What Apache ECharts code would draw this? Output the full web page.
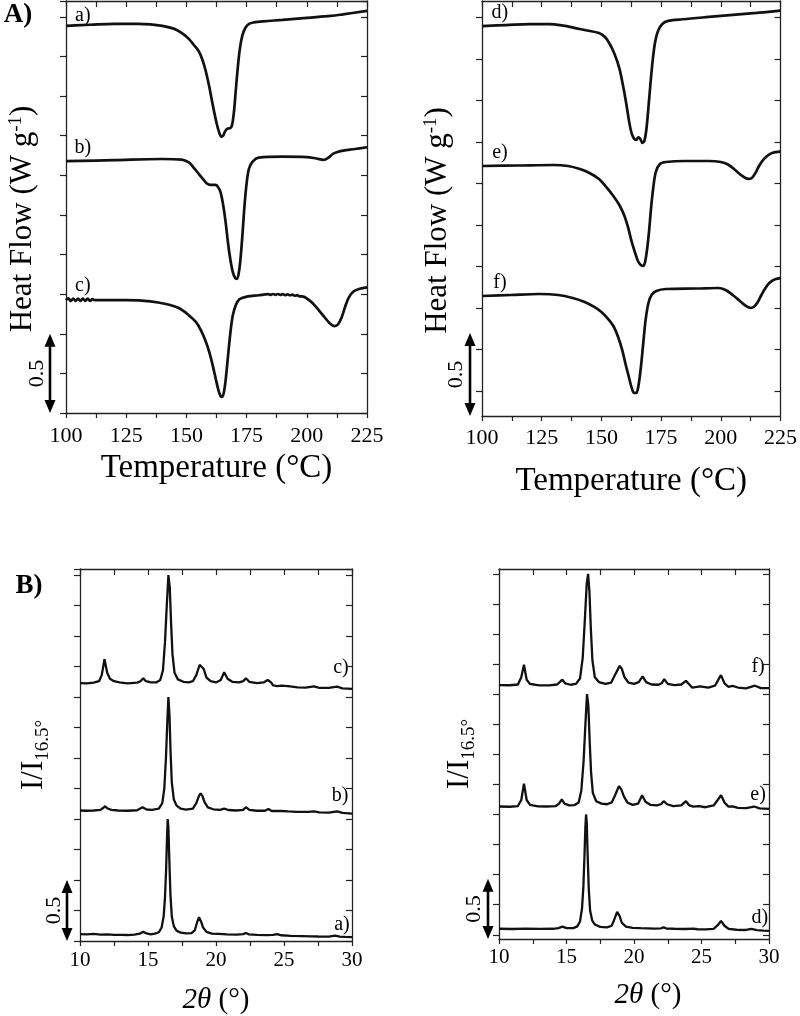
<!DOCTYPE html>
<html>
<head>
<meta charset="utf-8">
<script src="https://cdn.jsdelivr.net/npm/echarts@6/dist/echarts.min.js"></script>
<style>
html,body{margin:0;padding:0;background:#fff;}
#chart{width:800px;height:1016px;}
</style>
</head>
<body>
<div id="chart"></div>
<script>
// ---------------- DATA ----------------
// DSC, left panel (Heat Flow in W/g, curves offset vertically)
var dscA = [[100,2.443],[110,2.450],[120,2.456],[130,2.456],[135,2.453],[140,2.443],[145,2.424],[148,2.399],[151,2.361],[153,2.324],[155,2.286],[156.5,2.236],[158,2.160],[159.5,2.059],[161,1.940],[162.5,1.832],[163.5,1.776],[164.5,1.744],[165.3,1.751],[166,1.776],[167,1.795],[168.2,1.798],[169,1.820],[169.8,1.908],[170.5,2.034],[171.3,2.173],[172.2,2.298],[173.2,2.380],[174.5,2.431],[176,2.456],[178,2.465],[182,2.472],[190,2.481],[200,2.494],[210,2.506],[215,2.516],[225,2.538]];
var dscB = [[100,1.589],[120,1.596],[140,1.603],[148,1.599],[151,1.581],[153,1.549],[155,1.511],[157,1.474],[158.5,1.448],[160,1.439],[162,1.439],[163,1.429],[164.2,1.392],[165.3,1.310],[166.3,1.203],[167.3,1.071],[168.3,0.964],[169.3,0.888],[170.3,0.850],[171,0.847],[171.8,0.888],[172.6,0.995],[173.4,1.152],[174.2,1.322],[175,1.448],[176,1.543],[177.5,1.587],[180,1.612],[190,1.618],[200,1.615],[204,1.606],[207,1.598],[209,1.612],[211,1.637],[214,1.653],[220,1.666],[225,1.677]];
var dscC = [[100,0.712],[101,0.723],[102,0.707],[103,0.722],[104,0.707],[105,0.722],[106,0.707],[107,0.722],[108,0.707],[109,0.722],[110,0.707],[111,0.718],[112,0.712],[125,0.712],[135,0.705],[142,0.686],[147,0.661],[151,0.617],[154,0.573],[156,0.523],[158,0.453],[159.5,0.384],[161,0.296],[162.3,0.208],[163.3,0.145],[164.2,0.107],[164.8,0.101],[165.5,0.126],[166.3,0.208],[167.2,0.346],[168.2,0.497],[169.2,0.611],[170.5,0.680],[172,0.718],[175,0.734],[180,0.743],[184,0.750],[185,0.745],[186,0.751],[187,0.746],[188,0.751],[189,0.745],[190,0.750],[191,0.744],[192,0.749],[193,0.743],[194,0.747],[195,0.740],[196,0.744],[197,0.736],[198,0.736],[201,0.712],[204,0.667],[207,0.611],[209.5,0.567],[211.5,0.548],[213,0.560],[214.5,0.605],[216,0.674],[217.5,0.730],[219.5,0.768],[222,0.784],[225,0.793]];
// DSC, right panel
var dscD = [[100,2.349],[110,2.355],[120,2.361],[128,2.361],[134,2.352],[139,2.337],[144,2.322],[149,2.307],[151.5,2.283],[153.5,2.241],[155.5,2.181],[157.5,2.096],[159,1.994],[160.3,1.892],[161.5,1.783],[162.5,1.711],[163.5,1.675],[164.5,1.663],[165.5,1.678],[166.3,1.669],[167.2,1.645],[168,1.657],[168.8,1.723],[169.6,1.843],[170.5,1.994],[171.5,2.145],[172.5,2.253],[173.7,2.319],[175.5,2.361],[178,2.380],[184,2.390],[195,2.404],[205,2.416],[215,2.428],[225,2.442]];
var dscE = [[100,1.506],[115,1.509],[130,1.512],[136,1.506],[141,1.488],[145,1.464],[149,1.428],[152,1.380],[155,1.325],[157.5,1.271],[159.5,1.211],[161,1.145],[162.5,1.060],[164,0.988],[165.3,0.934],[166.5,0.910],[167.5,0.904],[168.3,0.928],[169.2,1.012],[170,1.120],[170.8,1.253],[171.7,1.373],[172.8,1.470],[174.5,1.518],[177,1.530],[185,1.536],[195,1.536],[200,1.530],[203,1.515],[206,1.482],[209,1.446],[211.5,1.428],[213,1.434],[214.5,1.464],[216,1.506],[218,1.548],[220.5,1.578],[223,1.590],[225,1.593]];
var dscF = [[100,0.723],[112,0.729],[124,0.735],[132,0.729],[138,0.711],[143,0.687],[147,0.657],[150,0.627],[152.5,0.590],[155,0.542],[157,0.476],[158.7,0.398],[160.2,0.307],[161.5,0.235],[162.7,0.169],[163.7,0.139],[164.6,0.139],[165.5,0.181],[166.5,0.289],[167.5,0.434],[168.5,0.578],[169.7,0.681],[171,0.729],[173,0.753],[177,0.765],[190,0.768],[199,0.771],[202,0.759],[205,0.729],[208,0.693],[210.5,0.663],[212.5,0.651],[214,0.660],[215.5,0.687],[217,0.729],[218.7,0.771],[220.5,0.804],[223,0.825],[225,0.831]];

// XRD, left panel (I / I16.5°, curves offset vertically)
var xrdA = [[10,0.057],[10.5,0.055],[11,0.058],[11.5,0.053],[12,0.055],[12.5,0.050],[13,0.051],[13.5,0.049],[14,0.053],[14.4,0.060],[14.65,0.075],[14.9,0.062],[15.2,0.055],[15.5,0.060],[15.8,0.072],[16.0,0.11],[16.15,0.20],[16.25,0.36],[16.33,0.58],[16.40,0.85],[16.45,1.00],[16.50,0.93],[16.57,0.66],[16.65,0.38],[16.75,0.20],[16.9,0.12],[17.1,0.085],[17.4,0.068],[17.8,0.062],[18.2,0.065],[18.45,0.09],[18.6,0.15],[18.75,0.195],[18.9,0.16],[19.05,0.11],[19.3,0.075],[19.7,0.060],[20.2,0.058],[20.8,0.055],[21.5,0.052],[22.0,0.056],[22.2,0.066],[22.4,0.055],[23,0.050],[23.7,0.048],[24.2,0.050],[24.5,0.056],[24.8,0.047],[25.5,0.042],[26.3,0.040],[27,0.038],[27.5,0.037],[28.3,0.036],[28.75,0.045],[29.1,0.036],[29.5,0.033],[30,0.032]];
var xrdB = [[10,1.070],[10.5,1.068],[11,1.070],[11.5,1.075],[11.7,1.090],[11.85,1.105],[12.0,1.088],[12.3,1.075],[12.8,1.070],[13.5,1.068],[14.2,1.072],[14.6,1.097],[14.9,1.078],[15.3,1.075],[15.8,1.085],[16.05,1.13],[16.2,1.25],[16.32,1.50],[16.42,1.80],[16.5,2.00],[16.58,1.85],[16.66,1.55],[16.75,1.30],[16.9,1.16],[17.1,1.11],[17.4,1.085],[17.8,1.078],[18.3,1.085],[18.55,1.13],[18.75,1.19],[18.87,1.21],[19.0,1.19],[19.15,1.14],[19.4,1.095],[19.8,1.080],[20.3,1.075],[20.6,1.085],[20.9,1.074],[21.5,1.070],[22.0,1.075],[22.2,1.097],[22.45,1.075],[23,1.068],[23.6,1.068],[23.85,1.082],[24.1,1.066],[24.8,1.066],[25.3,1.062],[26,1.058],[26.8,1.058],[27.2,1.063],[27.6,1.055],[28.3,1.052],[28.9,1.062],[29.3,1.050],[30,1.045]];
var xrdC = [[10,2.115],[10.5,2.113],[11,2.118],[11.4,2.13],[11.6,2.18],[11.8,2.31],[12.0,2.20],[12.2,2.15],[12.5,2.13],[12.9,2.12],[13.5,2.113],[14.2,2.118],[14.45,2.13],[14.65,2.155],[14.85,2.13],[15.2,2.12],[15.6,2.12],[15.9,2.14],[16.1,2.22],[16.25,2.45],[16.38,2.75],[16.5,3.00],[16.6,2.90],[16.7,2.60],[16.8,2.35],[16.95,2.20],[17.2,2.145],[17.6,2.125],[18.0,2.12],[18.3,2.13],[18.55,2.18],[18.8,2.265],[18.92,2.277],[19.1,2.23],[19.3,2.16],[19.6,2.13],[20.0,2.12],[20.35,2.14],[20.6,2.204],[20.85,2.15],[21.2,2.125],[21.7,2.12],[22.0,2.13],[22.2,2.155],[22.45,2.125],[23,2.115],[23.5,2.12],[23.8,2.14],[24.05,2.12],[24.2,2.095],[24.5,2.09],[24.8,2.093],[25.3,2.09],[26,2.08],[26.6,2.078],[27.2,2.087],[27.6,2.076],[28.3,2.075],[28.9,2.085],[29.3,2.072],[30,2.067]];
// XRD, right panel
var xrdD = [[10,0.050],[11,0.048],[12,0.051],[13,0.049],[14,0.050],[14.4,0.056],[14.7,0.068],[15.0,0.055],[15.5,0.055],[15.8,0.07],[16.0,0.11],[16.15,0.22],[16.25,0.40],[16.33,0.65],[16.4,0.90],[16.45,1.00],[16.5,0.93],[16.57,0.65],[16.65,0.38],[16.75,0.20],[16.9,0.12],[17.1,0.085],[17.5,0.066],[18.0,0.062],[18.35,0.075],[18.55,0.13],[18.75,0.19],[18.92,0.16],[19.1,0.10],[19.4,0.068],[19.9,0.058],[20.5,0.055],[21.5,0.052],[22.0,0.054],[22.2,0.062],[22.4,0.052],[23,0.050],[23.8,0.048],[24.4,0.052],[24.7,0.046],[25.3,0.045],[25.9,0.050],[26.2,0.08],[26.45,0.115],[26.7,0.075],[27.0,0.050],[27.6,0.042],[28.3,0.040],[28.7,0.050],[29.1,0.038],[29.6,0.034],[30,0.033]];
var xrdE = [[10,1.066],[10.8,1.064],[11.4,1.07],[11.65,1.12],[11.85,1.255],[12.05,1.12],[12.3,1.08],[12.5,1.075],[12.9,1.068],[13.5,1.066],[14.2,1.07],[14.45,1.09],[14.65,1.125],[14.85,1.09],[15.2,1.075],[15.6,1.078],[15.9,1.10],[16.1,1.20],[16.27,1.45],[16.4,1.75],[16.52,2.00],[16.62,1.90],[16.72,1.60],[16.82,1.35],[16.95,1.18],[17.2,1.11],[17.6,1.09],[18.0,1.085],[18.35,1.10],[18.6,1.16],[18.88,1.236],[19.05,1.21],[19.25,1.15],[19.5,1.10],[19.9,1.08],[20.3,1.09],[20.6,1.16],[20.85,1.105],[21.2,1.08],[21.7,1.075],[22.0,1.085],[22.2,1.11],[22.45,1.085],[22.9,1.07],[23.5,1.075],[23.85,1.11],[24.1,1.075],[24.4,1.065],[24.8,1.07],[25.3,1.06],[25.9,1.075],[26.2,1.12],[26.45,1.16],[26.7,1.10],[27.0,1.065],[27.3,1.068],[27.7,1.055],[28.3,1.052],[28.9,1.066],[29.3,1.05],[30,1.047]];
var xrdF = [[10,2.075],[10.8,2.074],[11.4,2.08],[11.65,2.14],[11.85,2.244],[12.05,2.12],[12.3,2.085],[12.6,2.08],[13,2.073],[13.7,2.072],[14.3,2.08],[14.5,2.10],[14.69,2.12],[14.9,2.09],[15.3,2.078],[15.7,2.085],[16.0,2.13],[16.2,2.30],[16.35,2.60],[16.5,2.92],[16.6,3.00],[16.7,2.85],[16.8,2.55],[16.92,2.28],[17.1,2.14],[17.4,2.10],[17.9,2.085],[18.3,2.095],[18.55,2.15],[18.94,2.235],[19.1,2.21],[19.3,2.14],[19.6,2.095],[20.0,2.085],[20.35,2.10],[20.64,2.147],[20.9,2.10],[21.3,2.08],[21.8,2.078],[22.05,2.09],[22.24,2.125],[22.5,2.085],[23,2.075],[23.5,2.08],[23.85,2.11],[24.1,2.08],[24.3,2.055],[24.9,2.065],[25.5,2.055],[26.0,2.07],[26.2,2.11],[26.44,2.158],[26.7,2.09],[27.0,2.06],[27.3,2.068],[27.7,2.055],[28.3,2.048],[28.96,2.07],[29.4,2.05],[30,2.05]];

// curve labels: [x, y, text]
var dscLeftLabels = [[107,2.51,'a)'],[107,1.675,'b)'],[107,0.806,'c)']];
var dscRightLabels = [[107.5,2.428,'d)'],[107.5,1.584,'e)'],[107.5,0.801,'f)']];
var xrdLeftLabels = [[29.19,2.241,'c)'],[29.12,1.19,'b)'],[29.26,0.130,'a)']];
var xrdRightLabels = [[29.19,2.228,'f)'],[29.19,1.164,'e)'],[29.33,0.141,'d)']];

// tick values
var dscRightYTicks = [0.15,0.40,0.65,0.90,1.15,1.40,1.65,1.90,2.15,2.40];
var xrdRightYTicks = [0,0.25,0.5,0.75,1,1.25,1.5,1.75,2,2.25,2.5,2.75,3];
var scaleBarValue = 0.5;

// ---------------- LAYOUT / STYLE ----------------
var FONT = 'Liberation Serif';
var INK = '#111';
var AX = '#222';

var panels = [
  {grid:{left:66, top:1, width:301, height:412}, x:{min:100,max:225,interval:25}, y:{min:0,max:2.6,interval:0.25},
   xName:'Temperature (°C)', xGap:39, xPad:[0,0,0,0], labelMargin:12, labelSize:22,
   yName:'{a|Heat Flow (W g}{s|-1}{a|)}', yGap:28, yPad:[0,24,0,0],
   series:[dscA,dscB,dscC], labels:dscLeftLabels, smooth:0.35, arrowDx:-16, txtDx:-29},
  {grid:{left:482, top:1, width:300, height:415}, x:{min:100,max:225,interval:25}, y:{min:0,max:2.5,custom:dscRightYTicks},
   xName:'Temperature (°C)', xGap:49, xPad:[0,0,0,0], labelMargin:11, labelSize:22,
   yName:'{a|Heat Flow (W g}{s|-1}{a|)}', yGap:29, yPad:[0,24,0,0],
   series:[dscD,dscE,dscF], labels:dscRightLabels, smooth:0.35, arrowDx:-12, txtDx:-26},
  {grid:{left:80, top:569, width:272, height:374}, x:{min:10,max:30,interval:5}, y:{min:0,max:3.05,interval:0.25},
   xName:'{i|2θ}{n| (°)}', xGap:45, xPad:[0,0,0,0], labelMargin:9, labelSize:21,
   yName:'{a|I/I}{s|16.5°}', yGap:31, yPad:[0,0,0,0],
   series:[xrdA,xrdB,xrdC], labels:xrdLeftLabels, smooth:false, arrowDx:-13, txtDx:-26},
  {grid:{left:499, top:569, width:270, height:370}, x:{min:10,max:30,interval:5}, y:{min:-0.035,max:3.04,custom:xrdRightYTicks},
   xName:'{i|2θ}{n| (°)}', xGap:42, xPad:[0,0,0,28], labelMargin:8, labelSize:21,
   yName:'{a|I/I}{s|16.5°}', yGap:24, yPad:[0,0,0,0],
   series:[xrdD,xrdE,xrdF], labels:xrdRightLabels, smooth:false, arrowDx:-11, txtDx:-25}
];

var grids = [], xAxes = [], yAxes = [], series = [];
var lineAxis = {lineStyle:{color:AX, width:1.3}, onZero:false};
var tickStyle = {color:AX, width:1.2};

panels.forEach(function(p, i){
  grids.push(p.grid);
  xAxes.push({type:'value', gridIndex:i, position:'bottom', min:p.x.min, max:p.x.max, interval:p.x.interval,
    axisLine:lineAxis, axisTick:{show:true, inside:false, length:5, lineStyle:tickStyle},
    minorTick:{show:true, splitNumber:2, length:5, lineStyle:tickStyle},
    splitLine:{show:false}, minorSplitLine:{show:false},
    axisLabel:{show:true, margin:p.labelMargin, color:'#000', fontFamily:FONT, fontSize:p.labelSize, showMinLabel:true, showMaxLabel:true},
    name:p.xName, nameLocation:'middle', nameGap:p.xGap,
    nameTextStyle:{color:'#000', fontFamily:FONT, fontSize:33, padding:p.xPad,
      rich:{i:{fontFamily:FONT, fontStyle:'italic', fontSize:29, color:'#000'}, n:{fontFamily:FONT, fontSize:29, color:'#000'}}}
  });
  xAxes.push({type:'value', gridIndex:i, position:'top', min:p.x.min, max:p.x.max, interval:p.x.interval,
    axisLine:lineAxis, axisTick:{show:true, inside:true, length:6, lineStyle:tickStyle},
    minorTick:{show:true, splitNumber:2, length:6, lineStyle:tickStyle},
    splitLine:{show:false}, axisLabel:{show:false}});
  var yl = {type:'value', gridIndex:i, position:'left', min:p.y.min, max:p.y.max,
    axisLine:lineAxis, axisTick:{show:true, inside:false, length:6, lineStyle:tickStyle},
    splitLine:{show:false}, axisLabel:{show:false},
    name:p.yName, nameLocation:'middle', nameRotate:90, nameGap:p.yGap,
    nameTextStyle:{color:'#000', fontFamily:FONT, fontSize:31, padding:p.yPad,
      rich:{a:{fontFamily:FONT, fontSize:31, color:'#000', verticalAlign:'bottom'},
            s:{fontFamily:FONT, fontSize:19, color:'#000', verticalAlign:(i<2?'top':'bottom'), padding:(i<2?[0,0,0,0]:[0,0,-4,0])}}}
  };
  var yr = {type:'value', gridIndex:i, position:'right', min:p.y.min, max:p.y.max,
    axisLine:lineAxis, axisTick:{show:true, inside:true, length:6, lineStyle:tickStyle},
    splitLine:{show:false}, axisLabel:{show:false}};
  if (p.y.custom) {
    yl.axisTick.customValues = p.y.custom; yr.axisTick.customValues = p.y.custom;
    yl.interval = 0.25; yr.interval = 0.25;
  } else {
    yl.interval = p.y.interval; yr.interval = p.y.interval;
  }
  yAxes.push(yl); yAxes.push(yr);
  p.series.forEach(function(d){
    series.push({type:'line', xAxisIndex:2*i, yAxisIndex:2*i, data:d, showSymbol:false, symbol:'none',
      smooth:p.smooth, lineStyle:{color:INK, width:(i<2?2.7:2.3)}, silent:true, animation:false, z:3});
  });
  p.firstSeries = series.length - p.series.length;
});

var chart = echarts.init(document.getElementById('chart'), null, {renderer:'canvas'});
chart.setOption({animation:false, backgroundColor:'#fff', grid:grids, xAxis:xAxes, yAxis:yAxes, series:series});

var g = [];
g.push({type:'text', x:18, y:15, style:{text:'A)', fontFamily:FONT, fontWeight:'bold', fontSize:27, fill:'#000', align:'center', verticalAlign:'middle'}});
g.push({type:'text', x:29, y:586, style:{text:'B)', fontFamily:FONT, fontWeight:'bold', fontSize:27, fill:'#000', align:'center', verticalAlign:'middle'}});
panels.forEach(function(p, i){
  var f = {seriesIndex:p.firstSeries};
  p.labels.forEach(function(l){
    var pt = chart.convertToPixel(f, [l[0], l[1]]);
    g.push({type:'text', x:pt[0], y:pt[1], style:{text:l[2], fontFamily:FONT, fontSize:20, fill:'#000', align:'center', verticalAlign:'middle'}});
  });
  var p0 = chart.convertToPixel(f, [p.x.min, p.y.min]);
  var p1 = chart.convertToPixel(f, [p.x.min, p.y.min + scaleBarValue]);
  var ax = p0[0] + p.arrowDx, yb = p0[1], yt = p1[1];
  var hw = 5.5, hl = 13;
  g.push({type:'line', shape:{x1:ax, y1:yt+hl-2, x2:ax, y2:yb-hl+2}, style:{stroke:'#000', lineWidth:2.6}});
  g.push({type:'polygon', shape:{points:[[ax,yt],[ax-hw,yt+hl],[ax+hw,yt+hl]]}, style:{fill:'#000'}});
  g.push({type:'polygon', shape:{points:[[ax,yb],[ax-hw,yb-hl],[ax+hw,yb-hl]]}, style:{fill:'#000'}});
  g.push({type:'text', x:p0[0] + p.txtDx, y:(yb+yt)/2, rotation:Math.PI/2,
    style:{text:String(scaleBarValue), fontFamily:FONT, fontSize:22, fill:'#000', align:'center', verticalAlign:'middle'}});
});
chart.setOption({graphic:g});
</script>
</body>
</html>
